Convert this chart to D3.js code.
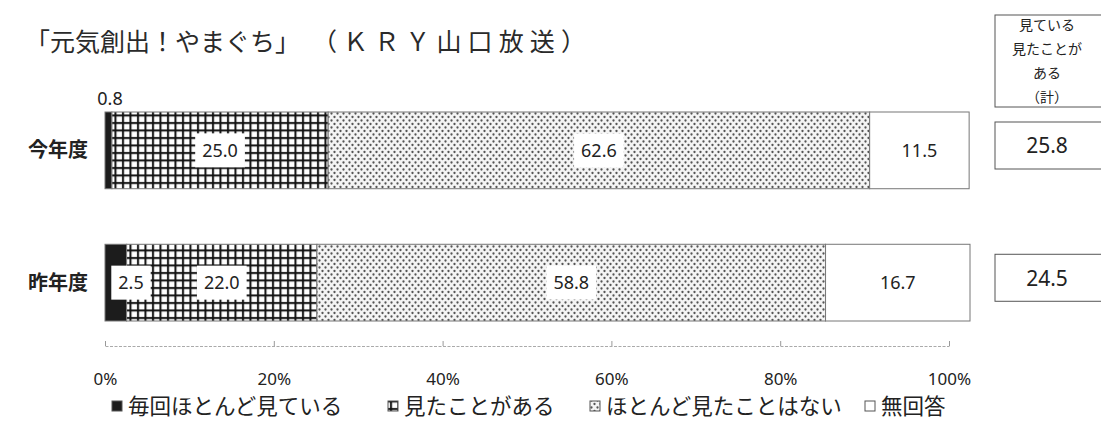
<!DOCTYPE html>
<html>
<meta charset="utf-8">
<script src="https://cdn.jsdelivr.net/npm/d3@7"></script>
<style>
  body { margin: 0; background: #fff; }
  text { font-family: "Noto Sans", "Noto Sans CJK JP", sans-serif; fill: #222; }
  .jp { font-family: "Noto Sans CJK JP", sans-serif; }
</style>
<body>
<div id="plot_area"></div>
</body>
<script>

// data
var rows = ["今年度", "昨年度"];
var categories = ["毎回ほとんど見ている", "見たことがある", "ほとんど見たことはない", "無回答"];
var mainichi = [0.8, 2.5];
var mitakoto = [25.0, 22.0];
var hotondoNai = [62.6, 58.8];
var mukaito = [11.5, 16.7];
var totals = [25.8, 24.5];
var tickValues = [0, 20, 40, 60, 80, 100];
var totalHeader = ["見ている", "見たことが", "ある", "（計）"];
var titleParts = ["「元気創出！やまぐち」", "（ＫＲＹ山口放送）"];

var width = 1101, height = 430;

var svg = d3.select("#plot_area")
  .append("svg")
    .attr("width", width)
    .attr("height", height);

// patterns
var defs = svg.append("defs");
var grid = defs.append("pattern")
    .attr("id", "grid")
    .attr("patternUnits", "userSpaceOnUse")
    .attr("width", 7.5).attr("height", 7.5);
grid.append("rect").attr("width", 7.5).attr("height", 7.5).attr("fill", "#fff");
grid.append("rect").attr("x", 2).attr("width", 2).attr("height", 7.5).attr("fill", "#111");
grid.append("rect").attr("y", 2).attr("width", 7.5).attr("height", 2).attr("fill", "#111");

var dots = defs.append("pattern")
    .attr("id", "dots")
    .attr("patternUnits", "userSpaceOnUse")
    .attr("width", 6).attr("height", 7);
dots.append("rect").attr("width", 6).attr("height", 7).attr("fill", "#f4f4f4");
dots.append("circle").attr("cx", 1.5).attr("cy", 1.5).attr("r", 1.15).attr("fill", "#555");
dots.append("circle").attr("cx", 4.5).attr("cy", 5).attr("r", 1.15).attr("fill", "#555");

var fills = ["#1c1c1c", "url(#grid)", "url(#dots)", "#fff"];

// table for the stack
var table = rows.map(function(r, i) {
  var o = { row: r };
  o[categories[0]] = mainichi[i];
  o[categories[1]] = mitakoto[i];
  o[categories[2]] = hotondoNai[i];
  o[categories[3]] = mukaito[i];
  return o;
});
var series = d3.stack().keys(categories)(table);

var x = d3.scaleLinear().domain([0, 100]).range([105, 970]);
var xAxisScale = d3.scaleLinear().domain([0, 100]).range([105, 949]);
var y = d3.scaleBand().domain(rows).range([112, 321]).paddingInner(0.42).paddingOuter(0);

// title (two parts, the second one is more widely spaced)
var titleX = [25, 312], titleLen = [null, 274];
titleParts.forEach(function(p, i) {
  var t = svg.append("text")
      .attr("class", "jp")
      .attr("x", titleX[i]).attr("y", 51)
      .style("font-size", "25px")
      .style("font-weight", 400)
      .style("fill", "#2a2a2a")
      .text(p);
  if (titleLen[i]) t.attr("textLength", titleLen[i]).attr("lengthAdjust", "spacing");
});

// bars
var layer = svg.append("g").selectAll("g")
  .data(series)
  .enter().append("g")
    .attr("fill", function(d, i) { return fills[i]; });

layer.selectAll("rect")
  .data(function(d) { return d; })
  .enter().append("rect")
    .attr("x", function(d) { return x(d[0]); })
    .attr("y", function(d) { return y(d.data.row); })
    .attr("width", function(d) { return x(d[1]) - x(d[0]); })
    .attr("height", y.bandwidth())
    .attr("stroke", "#777")
    .attr("stroke-width", 1);

// segment labels
var labels = [];
series.forEach(function(s, si) {
  s.forEach(function(d, ri) {
    labels.push({ si: si, ri: ri, v: d[1] - d[0], x0: d[0], x1: d[1], row: d.data.row });
  });
});

var lab = svg.append("g").selectAll("g")
  .data(labels)
  .enter().append("g")
    .attr("transform", function(d) {
      var cx = x((d.x0 + d.x1) / 2);
      var cy = y(d.row) + y.bandwidth() / 2;
      if (d.si == 0 && d.v < 1) { cx = 110; cy = y(d.row) - 13; }
      else if (d.si == 0) { cx = 131; }
      return "translate(" + cx + "," + cy + ")";
    });

lab.each(function(d) {
  var g = d3.select(this);
  var t = g.append("text")
      .attr("text-anchor", "middle")
      .attr("dy", "0.35em")
      .style("font-size", "18px")
      .text(d.v.toFixed(1));
  var small = (d.si == 0 && d.v < 1);
  if (!small && d.si < 3) {
    var bb = t.node().getBBox();
    g.insert("rect", "text")
        .attr("x", bb.x - 7)
        .attr("y", -17)
        .attr("width", bb.width + 14)
        .attr("height", 34)
        .attr("fill", "#fff");
  }
});

// row labels
svg.append("g").selectAll("text")
  .data(rows)
  .enter().append("text")
    .attr("class", "jp")
    .attr("x", 88)
    .attr("y", function(d) { return y(d) + y.bandwidth() / 2; })
    .attr("dy", "0.35em")
    .attr("text-anchor", "end")
    .style("font-size", "20px")
    .style("font-weight", "bold")
    .text(function(d) { return d; });

// axis
var axis = svg.append("g")
    .attr("transform", "translate(0,346)")
    .call(d3.axisBottom(xAxisScale)
      .tickValues(tickValues)
      .tickSizeInner(-5)
      .tickSizeOuter(0)
      .tickPadding(27)
      .tickFormat(function(d) { return d + "%"; }));
axis.select(".domain")
    .attr("stroke", "#aaa")
    .attr("stroke-dasharray", "3,1.5");
axis.selectAll(".tick line").attr("stroke", "#999");
axis.selectAll(".tick text")
    .style("font-size", "17px")
    .style("font-family", "'Noto Sans', sans-serif")
    .attr("fill", "#222");

// totals boxes
svg.append("rect")
    .attr("x", 995).attr("y", 15)
    .attr("width", 112).attr("height", 92)
    .attr("fill", "#fff").attr("stroke", "#555");
svg.append("g").selectAll("text")
  .data(totalHeader)
  .enter().append("text")
    .attr("class", "jp")
    .attr("x", 1047)
    .attr("y", function(d, i) { return 25 + i * 24; })
    .attr("dy", "0.35em")
    .attr("text-anchor", "middle")
    .style("font-size", "14px")
    .text(function(d) { return d; });

var tot = svg.append("g").selectAll("g")
  .data(totals)
  .enter().append("g")
    .attr("transform", function(d, i) { return "translate(995," + (y(rows[i]) + 10) + ")"; });
tot.append("rect")
    .attr("width", 112).attr("height", 47)
    .attr("fill", "#fff").attr("stroke", "#555");
tot.append("text")
    .attr("x", 52).attr("y", 24)
    .attr("dy", "0.35em")
    .attr("text-anchor", "middle")
    .style("font-size", "21px")
    .text(function(d) { return d.toFixed(1); });

// legend
var legendX = [112, 388, 590, 865];
var leg = svg.append("g").selectAll("g")
  .data(categories)
  .enter().append("g")
    .attr("transform", function(d, i) { return "translate(" + legendX[i] + ",406)"; });
leg.append("rect")
    .attr("x", 0).attr("y", -5)
    .attr("width", 10).attr("height", 10)
    .attr("fill", function(d, i) { return fills[i]; })
    .attr("stroke", "#555");
leg.append("text")
    .attr("class", "jp")
    .attr("x", 16)
    .attr("dy", "0.35em")
    .style("font-size", "21.5px")
    .text(function(d) { return d; });

</script>
</html>
